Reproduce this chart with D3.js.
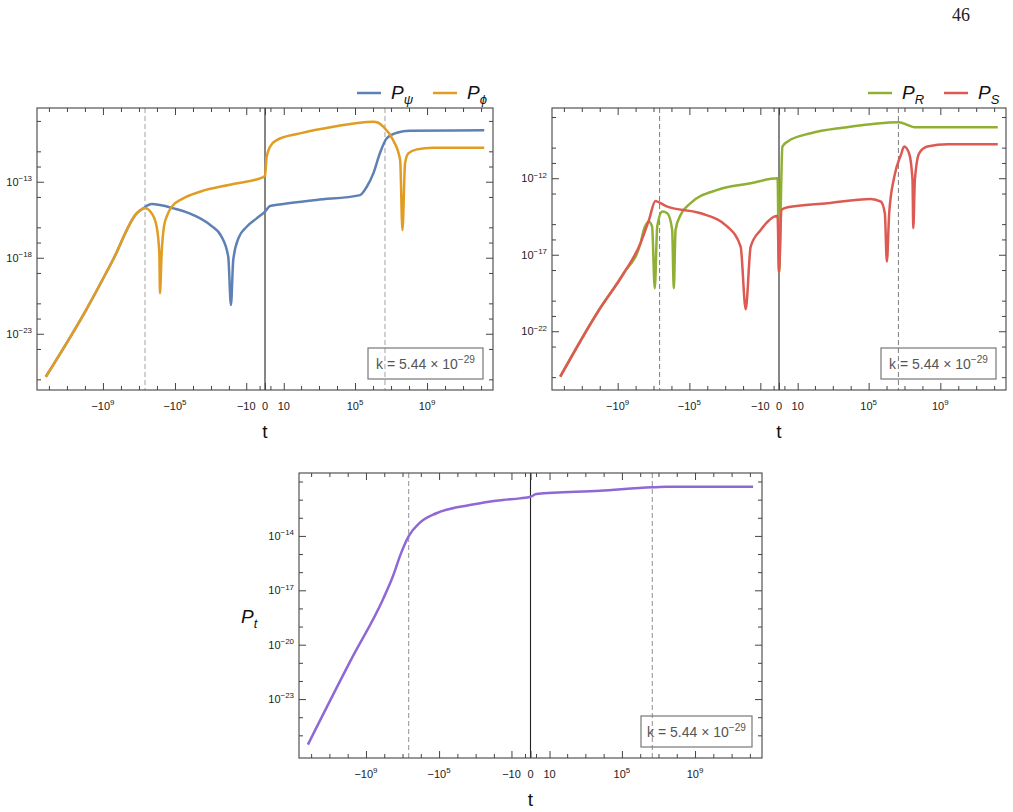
<!DOCTYPE html>
<html>
<head>
<meta charset="utf-8">
<script src="https://cdn.jsdelivr.net/npm/d3@7"></script>
<style>
  body { margin: 0; background: #fff; }
  text { font-family: "Liberation Sans", Arial, sans-serif; }
</style>
</head>
<body>
<svg id="chart" width="1013" height="812"></svg>
<script>
// ---- values (t, and log10 of the spectrum) ----
const psiT    = [-1.5e12, -8.7e9, -2.8e8, -1.3e7, -5.8e6, -1.96e6, -6.8e5, -1.2e5, -9.5e3, -1.1e3, -256, -109, -77, -57, -29, -9.4, -1.9, 0, 0.9, 9.4, 740, 1.9e5, 4.5e5, 1.04e6, 2.4e6, 5.8e6, 2.1e7, 1.1e8, 1.5e12];
const psiLogP = [-25.83, -21.44, -18.15, -15.06, -14.75, -14.47, -14.53, -14.75, -15.19, -15.85, -16.62, -17.93, -21.11, -18.15, -16.72, -15.96, -15.41, -14.97, -14.60, -14.47, -14.20, -13.88, -13.33, -12.45, -11.13, -10.14, -9.78, -9.64, -9.62];

const phiT    = [-1.5e12, -8.7e9, -2.8e8, -1.3e7, -4.6e6, -1.96e6, -1.04e6, -7.4e5, -6.8e5, -5.5e5, -4.1e5, -2.9e5, -1.5e5, -3.5e4, -4.1e3, -57, -0.24, 0, 0.24, 0.9, 3.5, 86, 6200, 1.04e6, 1.96e6, 3.7e6, 1.3e7, 3.2e7, 4.3e7, 6e7, 9.1e7, 2.7e8, 2.2e9, 1.5e12];
const phiLogP = [-25.83, -21.44, -18.15, -15.06, -14.75, -15.08, -15.96, -17.71, -20.34, -17.69, -15.96, -15.30, -14.64, -14.09, -13.66, -13.15, -12.69, -12.6, -11.36, -10.70, -10.26, -9.82, -9.38, -9.05, -9.12, -9.38, -10.26, -11.57, -16.18, -11.79, -11.13, -10.87, -10.76, -10.76];

const rT    = [-1.6e12, -1.1e10, -4.6e8, -5.3e7, -3.5e7, -1.8e7, -1.2e7, -8.5e6, -6.2e6, -3.2e6, -1.7e6, -9.1e5, -7.4e5, -5.9e5, -3.1e5, -8.5e4, -2.7e3, -37, -0.2, 0, 0.55, 1.95, 58, 4.3e3, 5e6, 1.5e7, 3.5e7, 1.6e12];
const rLogP = [-24.97, -20.61, -18.21, -16.25, -15.38, -14.84, -15.16, -19.19, -15.16, -14.18, -14.29, -15.38, -19.19, -15.38, -14.40, -13.63, -12.76, -12.33, -12.0, -18.17, -9.93, -9.61, -9.06, -8.69, -8.34, -8.52, -8.67, -8.67];

const sT    = [-1.6e12, -1.1e10, -4.6e8, -5.3e7, -1.8e7, -7.8e6, -4.1e6, -1.7e6, -2.3e4, -760, -137, -71, -37, -9.5, -0.2, 0, 0.36, 1.95, 500, 1.3e5, 4.8e5, 8e5, 1.04e6, 1.4e6, 2.7e6, 6.3e6, 9.6e6, 1.8e7, 2.8e7, 3.1e7, 3.8e7, 6.6e7, 1.9e8, 2.6e9, 1.6e12];
const sLogP = [-24.97, -20.61, -18.21, -16.25, -14.73, -13.48, -13.63, -13.86, -14.29, -15.16, -16.47, -20.56, -16.47, -15.38, -14.46, -18.17, -14.07, -13.90, -13.63, -13.35, -13.53, -14.29, -17.45, -14.29, -11.90, -10.48, -9.93, -10.37, -12.11, -15.27, -12.11, -10.37, -9.93, -9.78, -9.78];

const tensT    = [-1.5e12, -6.4e9, -1.2e8, -3.4e7, -1.2e7, -4.5e6, -1.2e6, -1.4e5, -2100, -31, -2.9, 0, 1.1, 6300, 4.4e6, 2.8e7, 1.5e12];
const tensLogP = [-25.51, -20.81, -17.52, -16.24, -14.95, -14.0, -13.30, -12.75, -12.30, -12.02, -11.93, -11.84, -11.69, -11.51, -11.32, -11.29, -11.29];

// horizon crossings (dashed grid lines)
const horizonT = [-4.6e6, 4.6e6];

// axis ticks
const xMajor = [-1e9, -1e5, -10, 0, 10, 1e5, 1e9];
const xMinor = d3.range(0, 13).flatMap(k => [-(10 ** k), 10 ** k]).filter(v => !xMajor.includes(v));
const tlLabelExp = [-13, -18, -23];
const tlMinorExp = [-9, -11, -12, -14, -16, -17, -19, -21, -22, -24, -26];
const trLabelExp = [-12, -17, -22];
const trMinorExp = [-8, -10, -11, -13, -15, -16, -18, -20, -21, -23, -25];
const btLabelExp = [-14, -17, -20, -23];
const btMinorExp = [-11, -12, -13, -15, -16, -18, -19, -21, -22, -24, -25];

const kLabel = ["k = 5.44 × 10", "−29"];

const colors = { psi: "#5e81b5", phi: "#e19c24", R: "#8fb032", S: "#dd5a52", t: "#9068d6" };

const svg = d3.select("#chart");
const T_MAX = 4.6e12;
const frameColor = "#444";

function supLabel(sel, base, exp, size) {
  sel.append("tspan").text(base);
  if (exp !== null) {
    sel.append("tspan").attr("font-size", size * 0.72).attr("dy", -size * 0.42).text(exp);
  }
}

function drawPanel(p, id) {
  const g = svg.append("g");
  const x = d3.scaleSymlog().constant(1).domain([-T_MAX, T_MAX]).range([p.left, p.right]);
  const y = d3.scaleLog().domain([10 ** p.yLo, 10 ** p.yHi]).range([p.bottom, p.top]);

  g.append("clipPath").attr("id", "clip" + id)
    .append("rect").attr("x", p.left).attr("y", p.top)
    .attr("width", p.right - p.left).attr("height", p.bottom - p.top);

  // dashed horizon lines
  g.selectAll(".dash").data(horizonT).join("line")
    .attr("x1", d => x(d)).attr("x2", d => x(d))
    .attr("y1", p.top).attr("y2", p.bottom)
    .attr("stroke", p.dashColor).attr("stroke-width", 1.1).attr("stroke-dasharray", "5,3");

  // t = 0 line
  g.append("line")
    .attr("x1", x(0)).attr("x2", x(0)).attr("y1", p.top).attr("y2", p.bottom)
    .attr("stroke", "#222").attr("stroke-width", 1.1);

  const line = d3.line()
    .x(d => x(d[0]))
    .y(d => y(10 ** d[1]))
    .curve(d3.curveMonotoneX);

  const plot = g.append("g").attr("clip-path", `url(#clip${id})`);
  p.series.forEach(s => {
    plot.append("path")
      .datum(d3.zip(s.t, s.logP))
      .attr("d", line)
      .attr("fill", "none")
      .attr("stroke", s.color)
      .attr("stroke-width", 2.5)
      .attr("stroke-linejoin", "round");
  });

  // ticks, all pointing inward
  const yMajor = p.labelExp.map(e => 10 ** e);
  const yMinor = p.minorExp.map(e => 10 ** e);
  const axes = [
    [d3.axisBottom(x), `translate(0,${p.bottom})`, xMajor, xMinor],
    [d3.axisTop(x), `translate(0,${p.top})`, xMajor, xMinor],
    [d3.axisLeft(y), `translate(${p.left},0)`, yMajor, yMinor],
    [d3.axisRight(y), `translate(${p.right},0)`, yMajor, yMinor]
  ];
  axes.forEach(([ax, tr, major, minor]) => {
    [[major, 7], [minor, 4]].forEach(([vals, len]) => {
      const a = g.append("g").attr("transform", tr)
        .call(ax.tickValues(vals).tickSize(-len).tickFormat(""));
      a.select(".domain").remove();
      a.selectAll("line").attr("stroke", frameColor);
    });
  });

  g.append("rect")
    .attr("x", p.left).attr("y", p.top)
    .attr("width", p.right - p.left).attr("height", p.bottom - p.top)
    .attr("fill", "none").attr("stroke", frameColor).attr("stroke-width", 1.1);

  // x tick labels
  xMajor.forEach(v => {
    const t = g.append("text")
      .attr("x", x(v)).attr("y", p.bottom + 20)
      .attr("text-anchor", "middle").attr("font-size", 11).attr("fill", "#222");
    const a = Math.abs(v);
    const sign = v < 0 ? "−" : "";
    if (a >= 100) supLabel(t, sign + "10", String(Math.round(Math.log10(a))), 11);
    else supLabel(t, sign + String(a), null, 11);
  });

  // y tick labels
  p.labelExp.forEach(e => {
    const t = g.append("text")
      .attr("x", p.left - 5).attr("y", y(10 ** e) + 4)
      .attr("text-anchor", "end").attr("font-size", 11).attr("fill", "#222");
    supLabel(t, "10", "−" + Math.abs(e), 11);
  });

  // axis label
  g.append("text")
    .attr("x", x(0)).attr("y", p.bottom + 48)
    .attr("text-anchor", "middle").attr("font-size", 19).attr("fill", "#111")
    .text("t");

  // k box
  const bx = p.right - 10 - p.boxW, by = p.bottom - 11 - 31;
  g.append("rect")
    .attr("x", bx).attr("y", by).attr("width", p.boxW).attr("height", 31)
    .attr("fill", "none").attr("stroke", "#777").attr("stroke-width", 1.2);
  const kt = g.append("text")
    .attr("x", bx + p.boxW / 2).attr("y", by + 21)
    .attr("text-anchor", "middle").attr("font-size", 14).attr("fill", "#555");
  supLabel(kt, kLabel[0], kLabel[1], 14);

  return { x, y };
}

function legend(items, x0) {
  let cx = x0;
  items.forEach(it => {
    svg.append("line")
      .attr("x1", cx).attr("x2", cx + 24).attr("y1", 93).attr("y2", 93)
      .attr("stroke", it.color).attr("stroke-width", 2.5);
    const t = svg.append("text")
      .attr("x", cx + 34).attr("y", 99)
      .attr("font-size", 19).attr("font-style", "italic").attr("fill", "#111");
    t.append("tspan").text("P");
    t.append("tspan").attr("font-size", 13).attr("dy", 5).text(it.sub);
    cx += 76;
  });
}

drawPanel({
  left: 37, right: 493, top: 108, bottom: 390, yLo: -26.7, yHi: -8.15,
  labelExp: tlLabelExp, minorExp: tlMinorExp, boxW: 115, dashColor: "#aaa",
  series: [
    { t: psiT, logP: psiLogP, color: colors.psi },
    { t: phiT, logP: phiLogP, color: colors.phi }
  ]
}, 1);

drawPanel({
  left: 552, right: 1006, top: 108, bottom: 390, yLo: -25.84, yHi: -7.41,
  labelExp: trLabelExp, minorExp: trMinorExp, boxW: 115, dashColor: "#888",
  series: [
    { t: rT, logP: rLogP, color: colors.R },
    { t: sT, logP: sLogP, color: colors.S }
  ]
}, 2);

drawPanel({
  left: 299, right: 762, top: 473, bottom: 758, yLo: -26.25, yHi: -10.53,
  labelExp: btLabelExp, minorExp: btMinorExp, boxW: 111, dashColor: "#999",
  series: [
    { t: tensT, logP: tensLogP, color: colors.t }
  ]
}, 3);

legend([{ sub: "ψ", color: colors.psi }, { sub: "ϕ", color: colors.phi }], 357);
legend([{ sub: "R", color: colors.R }, { sub: "S", color: colors.S }], 868);

// y label of the bottom panel
const pt = svg.append("text")
  .attr("x", 241).attr("y", 623)
  .attr("font-size", 19).attr("font-style", "italic").attr("fill", "#111");
pt.append("tspan").text("P");
pt.append("tspan").attr("font-size", 13).attr("dy", 5).text("t");

// page number
svg.append("text")
  .attr("x", 961).attr("y", 21).attr("text-anchor", "middle")
  .style("font-family", "'Liberation Serif', 'DejaVu Serif', serif")
  .attr("font-size", 18).attr("fill", "#222").text("46");
</script>
</body>
</html>
